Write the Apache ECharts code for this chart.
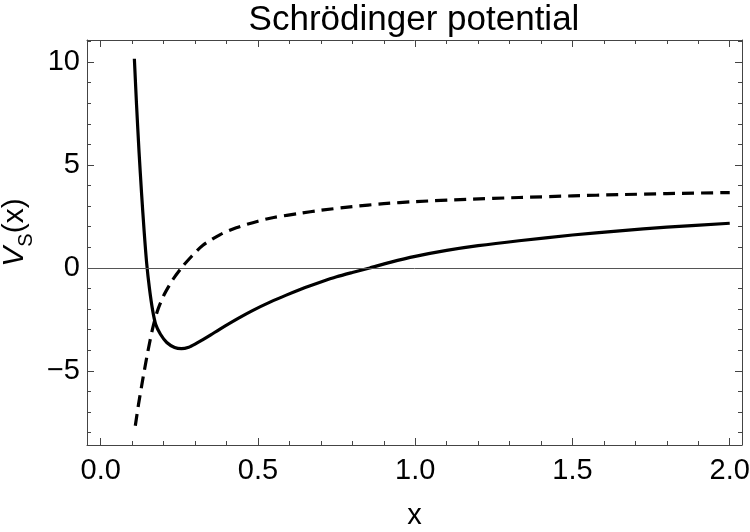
<!DOCTYPE html>
<html>
<head>
<meta charset="utf-8">
<script src="https://cdn.jsdelivr.net/npm/echarts@6/dist/echarts.min.js"></script>
<style>
  html, body { margin: 0; padding: 0; background: #fff; }
  #chart { width: 750px; height: 532px; }
</style>
</head>
<body>
<div id="chart"></div>
<script>
// values
const solidX = [0.107, 0.114, 0.122, 0.13, 0.138, 0.146, 0.155, 0.165, 0.175, 0.19, 0.21, 0.235, 0.2565, 0.28, 0.30, 0.325, 0.35, 0.378, 0.437, 0.484, 0.54, 0.59, 0.65, 0.7, 0.75, 0.8, 0.855, 0.92, 1.0, 1.1, 1.2, 1.33, 1.5, 1.65, 1.8, 2.0]
const solidY = [10.16, 7.9, 5.6, 3.6, 1.8, 0.25, -1.0, -2.05, -2.75, -3.22, -3.62, -3.86, -3.92, -3.85, -3.7, -3.48, -3.25, -2.98, -2.45, -2.06, -1.65, -1.32, -0.95, -0.68, -0.43, -0.22, 0, 0.27, 0.56, 0.85, 1.08, 1.32, 1.6, 1.8, 1.98, 2.17]
const dashedX = [0.11, 0.12, 0.135, 0.15, 0.165, 0.18, 0.2, 0.23, 0.2565, 0.29, 0.325, 0.38, 0.431, 0.5, 0.55, 0.633, 0.7, 0.8, 0.9, 1.0, 1.163, 1.33, 1.5, 1.65, 1.8, 2.0]
const dashedY = [-7.67, -6.65, -5.3, -4.05, -2.95, -2.1, -1.35, -0.55, 0, 0.58, 1.1, 1.62, 1.95, 2.27, 2.45, 2.65, 2.8, 2.98, 3.12, 3.22, 3.33, 3.42, 3.5, 3.56, 3.61, 3.66]

const xMajor = [0, 0.5, 1, 1.5, 2]
const xMinor = [0.1, 0.2, 0.3, 0.4, 0.6, 0.7, 0.8, 0.9, 1.1, 1.2, 1.3, 1.4, 1.6, 1.7, 1.8, 1.9]
const yMajor = [-5, 0, 5, 10]
const yMinor = [-8, -7, -6, -4, -3, -2, -1, 1, 2, 3, 4, 6, 7, 8, 9, 11]

const X_MIN = -0.0436
const X_MAX = 2.039
const Y_MIN = -8.6
const Y_MAX = 11.07

const FONT = 'Liberation Sans, Arial, sans-serif'
const FRAME = '#444'

const chart = echarts.init(document.getElementById('chart'))

function pairs(xs, ys) {
  return xs.map((x, i) => [x, ys[i]])
}

function fmtNum(v, digits) {
  const s = Math.abs(v).toFixed(digits)
  return v < 0 ? '\u2212' + s : s
}

function xAxisDef(position, ticks, len, main) {
  return {
    type: 'value',
    position: position,
    min: X_MIN,
    max: X_MAX,
    splitLine: { show: false },
    axisLine: { show: main, onZero: false, lineStyle: { color: FRAME, width: 1 } },
    axisTick: { show: true, inside: true, length: len, customValues: ticks, lineStyle: { color: FRAME, width: 1 } },
    axisLabel: {
      show: main && position === 'bottom',
      customValues: xMajor,
      margin: 11,
      fontFamily: FONT,
      fontSize: 29,
      color: '#000',
      formatter: (v) => fmtNum(v, 1),
    },
  }
}

function yAxisDef(position, ticks, len, main) {
  return {
    type: 'value',
    position: position,
    min: Y_MIN,
    max: Y_MAX,
    splitLine: { show: false },
    axisLine: { show: main, onZero: false, lineStyle: { color: FRAME, width: 1 } },
    axisTick: { show: true, inside: true, length: len, customValues: ticks, lineStyle: { color: FRAME, width: 1 } },
    axisLabel: {
      show: main && position === 'left',
      customValues: yMajor,
      margin: 7,
      fontFamily: FONT,
      fontSize: 29,
      color: '#000',
      formatter: (v) => fmtNum(v, 0),
    },
  }
}

const xBottom = xAxisDef('bottom', xMajor, 7, true)
xBottom.name = 'x'
xBottom.nameLocation = 'middle'
xBottom.nameGap = 56
xBottom.nameTextStyle = { fontFamily: FONT, fontSize: 29, color: '#000' }

const yLeft = yAxisDef('left', yMajor, 7, true)
yLeft.name = '{i|V}{s|S}{n|(x)}'
yLeft.nameLocation = 'middle'
yLeft.nameGap = 46
yLeft.nameTextStyle = {
  fontFamily: FONT,
  fontSize: 30,
  color: '#000',
  padding: [0, 0, 0, 20],
  rich: {
    i: { fontFamily: FONT, fontSize: 30, fontStyle: 'italic', color: '#000' },
    s: { fontFamily: FONT, fontSize: 20, color: '#000', verticalAlign: 'bottom', lineHeight: 42 },
    n: { fontFamily: FONT, fontSize: 30, color: '#000' },
  },
}

const option = {
  animation: false,
  backgroundColor: '#fff',
  title: {
    text: 'Schrödinger potential',
    left: 409,
    textAlign: 'center',
    top: -2,
    textStyle: { fontFamily: FONT, fontSize: 35, fontWeight: 'normal', color: '#000' },
  },
  grid: { left: 87, right: 8, top: 40, bottom: 87, containLabel: false, outerBoundsMode: 'none' },
  xAxis: [
    xBottom,
    xAxisDef('top', xMajor, 7, true),
    xAxisDef('bottom', xMinor, 4, false),
    xAxisDef('top', xMinor, 4, false),
  ],
  yAxis: [
    yLeft,
    yAxisDef('right', yMajor, 7, true),
    yAxisDef('left', yMinor, 4, false),
    yAxisDef('right', yMinor, 4, false),
  ],
  series: [
    {
      name: 'solid',
      type: 'line',
      xAxisIndex: 0,
      yAxisIndex: 0,
      data: pairs(solidX, solidY),
      smooth: 0.25,
      showSymbol: false,
      lineStyle: { color: '#000', width: 3.2 },
      markLine: {
        silent: true,
        symbol: ['none', 'none'],
        label: { show: false },
        lineStyle: { color: '#555', width: 1, type: 'solid' },
        data: [{ yAxis: 0 }],
      },
      z: 3,
    },
    {
      name: 'dashed',
      type: 'line',
      xAxisIndex: 0,
      yAxisIndex: 0,
      data: pairs(dashedX, dashedY),
      smooth: 0.25,
      showSymbol: false,
      lineStyle: { color: '#000', width: 3.2, type: [12, 7] },
      z: 3,
    },
  ],
}

chart.setOption(option)
</script>
</body>
</html>
